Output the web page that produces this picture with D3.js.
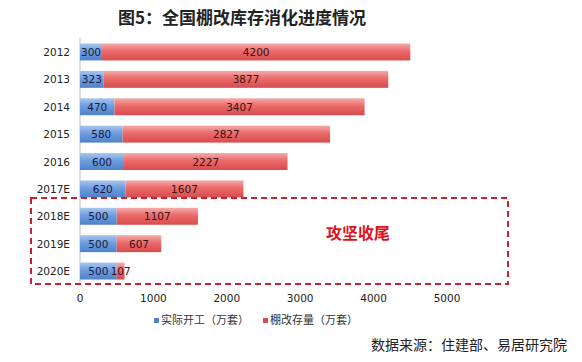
<!DOCTYPE html>
<html>
<head>
<meta charset="utf-8">
<script src="https://cdn.jsdelivr.net/npm/d3@7/dist/d3.min.js"></script>
<style>
  body { margin: 0; background: #fff; }
  svg { display: block; }
</style>
</head>
<body>
<svg id="chart" width="582" height="362"></svg>
<script>
const years = ['2012', '2013', '2014', '2015', '2016', '2017E', '2018E', '2019E', '2020E'];
const started = [300, 323, 470, 580, 600, 620, 500, 500, 500];
const stock = [4200, 3877, 3407, 2827, 2227, 1607, 1107, 607, 107];
const ticks = [0, 1000, 2000, 3000, 4000, 5000];
const seriesNames = ['实际开工（万套）', '棚改存量（万套）'];

const svg = d3.select('#chart');
const x = d3.scaleLinear().domain([0, 5000]).range([80, 447]);
const y = d3.scaleBand().domain(years).range([38, 285]).paddingInner(0.38).paddingOuter(0.2);

const defs = svg.append('defs');
function grad(id, stops) {
  const g = defs.append('linearGradient').attr('id', id).attr('x1', 0).attr('y1', 0).attr('x2', 0).attr('y2', 1);
  stops.forEach(([o, c]) => g.append('stop').attr('offset', o).attr('stop-color', c));
}
grad('gBlue', [[0, '#a9c6ee'], [0.45, '#6d9de0'], [1, '#4f82c8']]);
grad('gRed', [[0, '#f7aaaa'], [0.45, '#ea6a6a'], [1, '#d84c4e']]);

// title
svg.append('text').attr('x', 242).attr('y', 24).attr('text-anchor', 'middle')
  .attr('font-family', 'Noto Sans CJK SC').attr('font-weight', 'bold').attr('font-size', 17)
  .attr('fill', '#222').text('图5：全国棚改库存消化进度情况');

// axis line
svg.append('line').attr('x1', 80).attr('x2', 80).attr('y1', 38).attr('y2', 285)
  .attr('stroke', '#bbb').attr('stroke-width', 1);

const rows = svg.append('g').selectAll('g').data(years).join('g');

rows.append('rect')
  .attr('x', x(0)).attr('y', d => y(d)).attr('height', y.bandwidth())
  .attr('width', (d, i) => x(started[i]) - x(0)).attr('fill', 'url(#gBlue)');
rows.append('rect')
  .attr('x', (d, i) => x(started[i])).attr('y', d => y(d)).attr('height', y.bandwidth())
  .attr('width', (d, i) => x(started[i] + stock[i]) - x(started[i])).attr('fill', 'url(#gRed)');

const lblFont = 'DejaVu Sans';
const fs = 10.5;
rows.append('text')
  .attr('x', (d, i) => (x(0) + x(started[i])) / 2).attr('y', d => y(d) + y.bandwidth() / 2 + 4)
  .attr('text-anchor', 'middle').attr('font-family', lblFont).attr('font-size', fs).attr('fill', '#1a1a3a')
  .text((d, i) => started[i]);
rows.append('text')
  .attr('x', (d, i) => i === 8 ? x(started[i]) + 4 : (x(started[i]) + x(started[i] + stock[i])) / 2)
  .attr('y', d => y(d) + y.bandwidth() / 2 + 4)
  .attr('text-anchor', 'middle').attr('font-family', lblFont).attr('font-size', fs).attr('fill', '#3a1010')
  .text((d, i) => stock[i]);

rows.append('text')
  .attr('x', 70).attr('y', d => y(d) + y.bandwidth() / 2 + 4)
  .attr('text-anchor', 'end').attr('font-family', lblFont).attr('font-size', fs).attr('fill', '#222')
  .text(d => d);

// x tick labels
svg.append('g').selectAll('text').data(ticks).join('text')
  .attr('x', d => x(d)).attr('y', 302).attr('text-anchor', 'middle')
  .attr('font-family', lblFont).attr('font-size', fs).attr('fill', '#222').text(d => d);

// dashed highlight box
svg.append('rect').attr('x', 31).attr('y', 198).attr('width', 477).attr('height', 86)
  .attr('fill', 'none').attr('stroke', '#c8202c').attr('stroke-width', 2).attr('stroke-dasharray', '6,4');
svg.append('text').attr('x', 358).attr('y', 239).attr('text-anchor', 'middle')
  .attr('font-family', 'Noto Sans CJK SC').attr('font-weight', 'bold').attr('font-size', 16)
  .attr('fill', '#e0101c').text('攻坚收尾');

// legend
const legend = svg.append('g').selectAll('g').data(seriesNames).join('g')
  .attr('transform', (d, i) => `translate(${154 + i * 109},324)`);
legend.append('rect').attr('x', 0).attr('y', -6).attr('width', 5).attr('height', 5)
  .attr('fill', (d, i) => i === 0 ? '#4f82c8' : '#d84c5e');
legend.append('text').attr('x', 7).attr('y', 0).attr('font-family', 'Noto Sans CJK SC')
  .attr('font-size', 11).attr('fill', '#333').text(d => d);

// source
svg.append('text').attr('x', 567).attr('y', 350).attr('text-anchor', 'end')
  .attr('font-family', 'Noto Sans CJK SC').attr('font-size', 14).attr('fill', '#222')
  .text('数据来源：住建部、易居研究院');
</script>
</body>
</html>
